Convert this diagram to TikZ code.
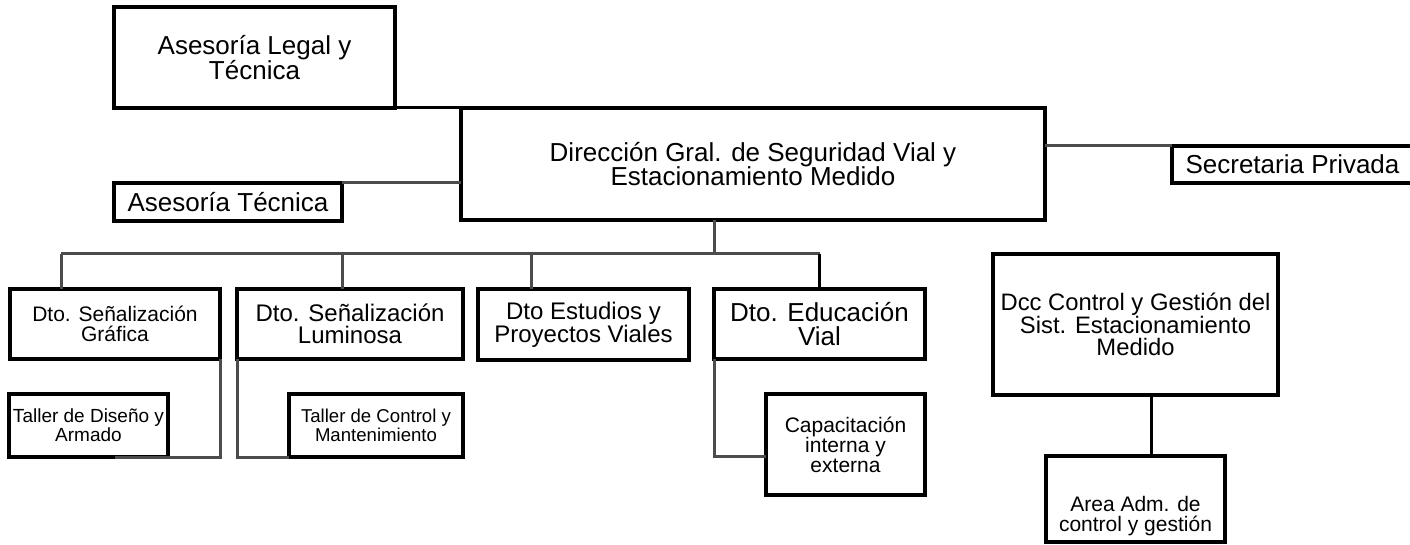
\documentclass[tikz,border=0pt]{standalone}
\usepackage{fontspec}
\setmainfont{Liberation Sans}

\begin{document}
\begin{tikzpicture}[x=1pt,y=-1pt,
	box/.style={draw, line width=3.2pt, inner sep=0pt, outer sep=0pt, align=center},
	link/.style={draw=black!70, line width=3pt},
	linkb/.style={draw=black, line width=3pt},
	fA/.style={font=\fontsize{26}{24.5}\selectfont},
	fB/.style={font=\fontsize{24}{21.5}\selectfont},
	fC/.style={font=\fontsize{21}{19.5}\selectfont},
	fD/.style={font=\fontsize{18.6}{15.5}\selectfont}]
\useasboundingbox (0,0) rectangle (1410,545);

\node[box, fA, minimum width=281pt, minimum height=101pt] (legal) at (254.5,57.5) {Asesoría Legal y\\Técnica};
\node[box, fA, minimum width=584pt, minimum height=112pt] (main) at (753,164) {Dirección Gral. de Seguridad Vial y\\Estacionamiento Medido};
\node[box, fA, minimum width=228pt, minimum height=38pt] (asest) at (228,202) {Asesoría Técnica};
\node[box, fA, minimum width=241pt, minimum height=37pt] (secpriv) at (1292.5,164.5) {Secretaria Privada};

\node[box, fC, minimum width=210pt, minimum height=70pt] (graf) at (115,324) {Dto. Señalización\\Gráfica};
\node[box, fB, minimum width=226pt, minimum height=70pt] (lumin) at (350,324) {Dto. Señalización\\Luminosa};
\node[box, fB, minimum width=211pt, minimum height=71pt] (estud) at (583.5,324.5) {Dto Estudios y\\Proyectos Viales};
\node[box, fA, minimum width=211pt, minimum height=70pt] (educ) at (819.5,324) {Dto. Educación\\Vial};
\node[box, font=\fontsize{23.8}{22.5}\selectfont, minimum width=285pt, minimum height=141pt] (dcc) at (1135.5,324.5) {Dcc Control y Gestión del\\Sist. Estacionamiento\\Medido};

\node[box, font=\fontsize{19}{16}\selectfont, minimum width=159pt, minimum height=63pt] (tallerd) at (88.5,425.5) {Taller de Diseño y\\Armado};
\node[box, fD, minimum width=174pt, minimum height=63pt] (tallerc) at (376,425.5) {Taller de Control y\\Mantenimiento};
\node[box, fC, minimum width=159pt, minimum height=101pt] (capac) at (845.5,444.5) {Capacitación\\interna y\\externa};
\node[box, fC, minimum width=179pt, minimum height=86pt] (areaadm) at (1135.5,499) {\rule{0pt}{49pt}Area Adm. de\\control y gestión};

\coordinate (hub) at (714,254);
\coordinate (busl) at (61,254);
\coordinate (busr) at (819.5,254);
\coordinate (dlum) at (342,254);
\coordinate (dest) at (531,254);

\draw[linkb] (legal.south east) -- (main.north west);
\draw[link] (asest.north east) -- (main.west |- asest.north);
\draw[link] (main.east |- secpriv.north) -- (secpriv.north west);
\draw[link] (main.south -| hub) -- (hub);
\draw[link] (busl) -- (busr);
\draw[link] (busl) -- (busl |- graf.north);
\draw[link] (dlum) -- (dlum |- lumin.north);
\draw[link] (dest) -- (dest |- estud.north);
\draw[linkb] (busr) -- (educ.north);
\draw[link] (graf.south east) |- ([xshift=26.5pt]tallerd.south);
\draw[link] (lumin.south west) |- (tallerc.south west);
\draw[link] (educ.south west) |- ([yshift=-11.5pt]capac.west);
\draw[linkb] ([xshift=16pt]dcc.south) -- ([xshift=16pt]areaadm.north);
\end{tikzpicture}
\end{document}
